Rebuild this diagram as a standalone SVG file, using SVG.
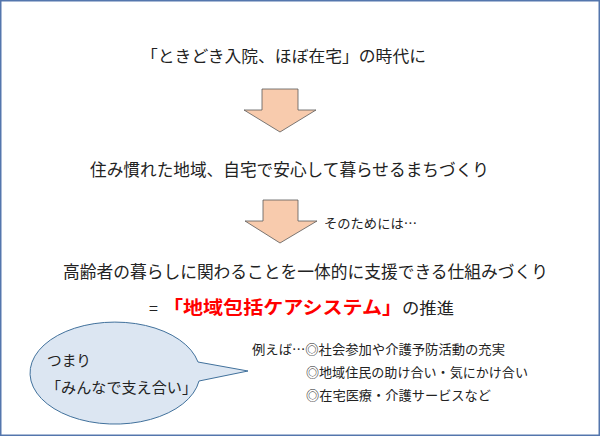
<svg xmlns="http://www.w3.org/2000/svg" width="600" height="436" viewBox="0 0 600 436">
  <style>
    text { font-family: "Noto Sans CJK JP", "Noto Sans", sans-serif; fill: #222222; }
    .big { font-size: 16.5px; }
    .note { font-size: 13px; }
    .red { fill: #ff0000; font-weight: bold; font-size: 18px; }
    .blockarrow { fill: #f8cbad; stroke: #595959; stroke-width: 0.8; }
    .bubble { fill: #dce6f2; stroke: #41719c; stroke-width: 1; }
  </style>
  <rect x="0.75" y="0.75" width="598.5" height="434.5" fill="#ffffff" stroke="#5476ad" stroke-width="1.5"/>

  <g id="connectors">
    <path id="arrow1" class="blockarrow" d="M262 89 L298 89 L298 110 L316 110 L280 132 L244 110 L262 110 Z"/>
    <path id="arrow2" class="blockarrow" d="M263 200 L298 200 L298 221 L317 221 L280 243 L245 221 L263 221 Z"/>
  </g>

  <g id="era">
    <text x="141" y="61.5" font-size="15.5" textLength="285" lengthAdjust="spacingAndGlyphs">「ときどき入院、ほぼ在宅」の時代に</text>
  </g>

  <g id="goal">
    <text x="90" y="176" class="big" textLength="399" lengthAdjust="spacingAndGlyphs">住み慣れた地域、自宅で安心して暮らせるまちづくり</text>
  </g>

  <g id="means-note">
    <text x="324" y="228" class="note" textLength="93" lengthAdjust="spacingAndGlyphs">そのためには…</text>
  </g>

  <g id="system">
    <text x="63" y="278" font-size="17" textLength="485" lengthAdjust="spacingAndGlyphs">高齢者の暮らしに関わることを一体的に支援できる仕組みづくり</text>
  </g>

  <g id="promotion">
    <text y="314" font-size="16"><tspan x="149">=</tspan><tspan x="163" class="red" textLength="239" lengthAdjust="spacingAndGlyphs">「地域包括ケアシステム」</tspan><tspan x="402" textLength="52" lengthAdjust="spacingAndGlyphs">の推進</tspan></text>
  </g>

  <g id="bubble">
    <path class="bubble" d="M198 362 A85 51 0 1 0 199 381 L248 371 Z"/>
    <text x="47" y="366" font-size="14.5" textLength="44" lengthAdjust="spacingAndGlyphs">つまり</text>
    <text x="46" y="393" font-size="14.5" textLength="151" lengthAdjust="spacingAndGlyphs">「みんなで支え合い」</text>
  </g>

  <g id="examples">
    <text x="252" y="354" class="note" textLength="253" lengthAdjust="spacingAndGlyphs">例えば…◎社会参加や介護予防活動の充実</text>
    <text x="306" y="377" class="note" textLength="222" lengthAdjust="spacingAndGlyphs">◎地域住民の助け合い・気にかけ合い</text>
    <text x="306" y="400" class="note" textLength="185" lengthAdjust="spacingAndGlyphs">◎在宅医療・介護サービスなど</text>
  </g>
</svg>
